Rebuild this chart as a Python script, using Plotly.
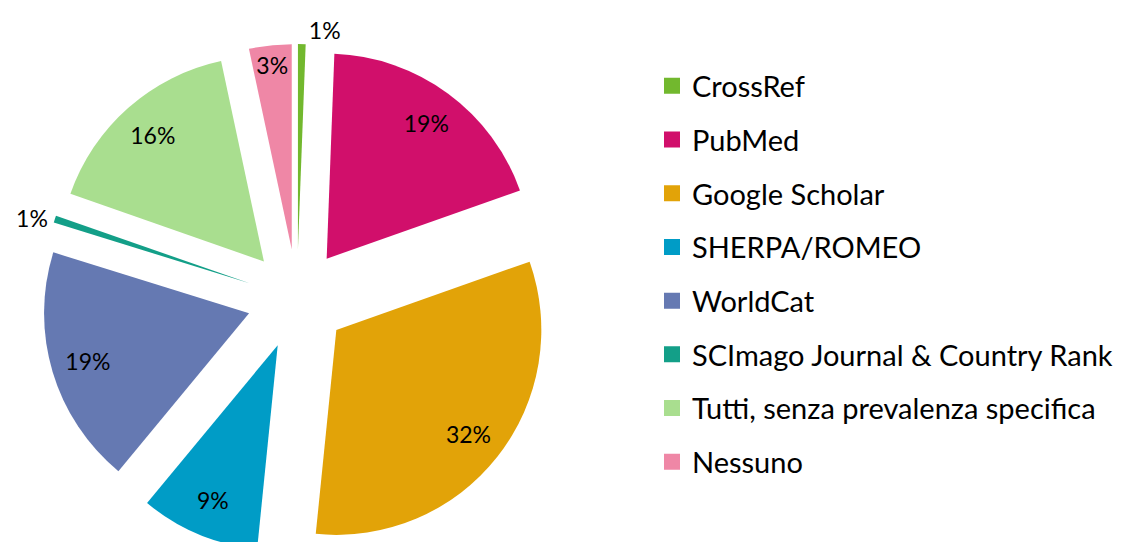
import plotly.graph_objects as go

labels = ["CrossRef", "PubMed", "Google Scholar", "SHERPA/ROMEO", "WorldCat",
          "SCImago Journal & Country Rank", "Tutti, senza prevalenza specifica", "Nessuno"]
values = [0.6, 19.0, 32.0, 9.4, 18.8, 0.55, 16.3, 3.35]
colors = ["#72B82E", "#D10F6B", "#E2A308", "#009CC6", "#6579B2", "#139F88", "#A9DE8F", "#EF87A6"]
text_positions = ["outside", "inside", "inside", "inside", "inside", "outside", "inside", "inside"]

# page has an 8px body margin: figure coordinates are page coordinates minus 8
OFF = 8
W, H = 1122 - OFF, 554 - OFF
cx, cy, r, pull = 297.0 - OFF, 299.0 - OFF, 205.0, 0.244
half = r * (1 + pull)

def clamp(v):
    return min(1.0, max(0.0, v))

domain = dict(x=[clamp((cx - half) / W), clamp((cx + half) / W)],
              y=[clamp((H - cy - half) / H), clamp((H - cy + half) / H)])

fig = go.Figure()
# coloured slices
fig.add_trace(go.Pie(
    labels=labels, values=values, sort=False, direction="clockwise", rotation=0,
    marker=dict(colors=colors, line=dict(width=0)),
    pull=[pull] * len(values), textinfo="none",
    domain=domain, showlegend=False, hoverinfo="label+percent",
))
# transparent ring carrying the percentage labels near the outer edge
fig.add_trace(go.Pie(
    labels=labels, values=values, sort=False, direction="clockwise", rotation=0,
    hole=0.64,
    marker=dict(colors=["rgba(0,0,0,0)"] * len(values), line=dict(width=0)),
    pull=[pull] * len(values),
    texttemplate="%{percent:.0%}", textposition=text_positions,
    insidetextorientation="horizontal",
    insidetextfont=dict(family="Lato", size=23, color="black"),
    outsidetextfont=dict(family="Lato", size=23, color="black"),
    domain=domain, showlegend=False, hoverinfo="skip",
))

for i, (lab, col) in enumerate(zip(labels, colors)):
    fig.add_trace(go.Scatter(
        x=[None], y=[None], mode="markers", name=lab, legendgroup=f"g{i}",
        marker=dict(symbol="square", size=18, color=col), showlegend=True,
    ))

fig.update_layout(
    width=W, height=H, margin=dict(l=0, r=0, t=0, b=0, autoexpand=False),
    paper_bgcolor="white", plot_bgcolor="white",
    xaxis=dict(visible=False), yaxis=dict(visible=False),
    legend=dict(x=(652 - OFF) / W, xanchor="left", y=(H - (274 - OFF)) / H, yanchor="middle",
                font=dict(family="Lato", size=29, color="black"),
                tracegroupgap=13, itemsizing="trace", bgcolor="rgba(0,0,0,0)"),
    uniformtext=dict(minsize=23, mode="show"),
    font=dict(family="Lato"),
)

fig.write_html("out.html")
